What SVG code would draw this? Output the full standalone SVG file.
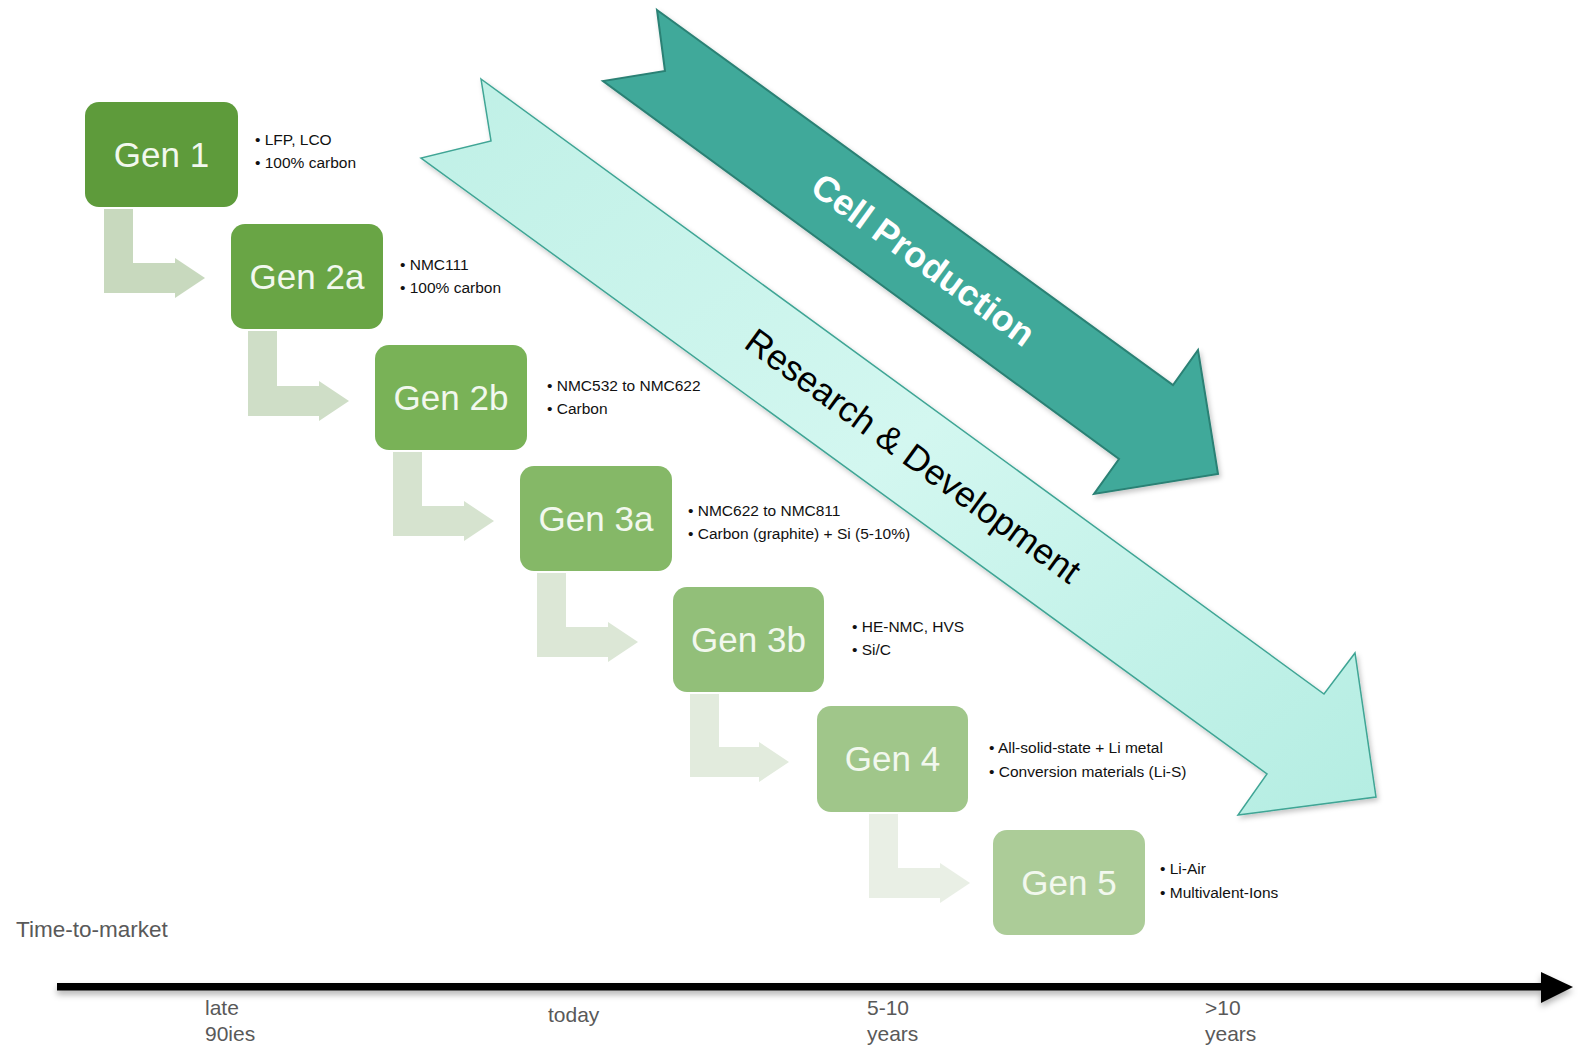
<svg xmlns="http://www.w3.org/2000/svg" width="1581" height="1045" viewBox="0 0 1581 1045">
<defs>
  <linearGradient id="rdGrad" x1="0" y1="0" x2="1" y2="1">
    <stop offset="0" stop-color="#BFF0E6"/>
    <stop offset="0.5" stop-color="#D3F7F0"/>
    <stop offset="1" stop-color="#B4EDE2"/>
  </linearGradient>
  <filter id="shadow" x="-10%" y="-10%" width="120%" height="120%">
    <feDropShadow dx="2" dy="3" stdDeviation="2.5" flood-color="#000" flood-opacity="0.22"/>
  </filter>
  <filter id="axisShadow" x="-5%" y="-100%" width="110%" height="400%">
    <feDropShadow dx="0" dy="4" stdDeviation="3" flood-color="#000" flood-opacity="0.3"/>
  </filter>
  <style>
    .box { stroke: none; }
    .gen { font-family: "Liberation Sans", Arial, sans-serif; font-size: 35px; fill: #F2F8EE; text-anchor: middle; }
    .bul { font-family: "Liberation Sans", Arial, sans-serif; font-size: 15.5px; fill: #111111; }
    .axl { font-family: "Liberation Sans", Arial, sans-serif; font-size: 21px; fill: #595959; }
    .ttm { font-size: 22.5px; }
  </style>
</defs>
<rect width="1581" height="1045" fill="#FFFFFF"/>

<g id="rd-arrow">
  <polygon points="481,79 1324,694 1355,653 1376,797 1238,815 1267,774 421,158 491,141" fill="url(#rdGrad)" stroke="#3FA595" stroke-width="1.5" filter="url(#shadow)"/>
  <text transform="translate(913,456) rotate(36.1)" x="0" y="12" text-anchor="middle" font-family="Liberation Sans, Arial, sans-serif" font-size="35.5" fill="#000">Research &amp; Development</text>
</g>

<g id="cell-arrow">
  <polygon points="657,10 1173,385 1198,350 1218,474 1094,494 1119,459 603,81 665,71" fill="#40A99A" stroke="#2B8174" stroke-width="2" filter="url(#shadow)"/>
  <text transform="translate(923,260) rotate(36.05)" x="0" y="12" text-anchor="middle" font-family="Liberation Sans, Arial, sans-serif" font-size="36" font-weight="bold" fill="#FFFFFF">Cell Production</text>
</g>

<g id="connectors">
  <polygon points="104,209 133,209 133,263 175,263 175,258 205,278 175,298 175,293 104,293" fill="#C8D9BE"/>
  <polygon points="248,331 277,331 277,386 319,386 319,381 349,401 319,421 319,416 248,416" fill="#CFDEC7"/>
  <polygon points="393,452 422,452 422,506 464,506 464,501 494,521 464,541 464,536 393,536" fill="#D6E3CF"/>
  <polygon points="537,573 566,573 566,627 608,627 608,622 638,642 608,662 608,657 537,657" fill="#DCE7D6"/>
  <polygon points="690,694 719,694 719,747 759,747 759,742 789,762 759,782 759,777 690,777" fill="#E2EBDD"/>
  <polygon points="869,814 898,814 898,868 940,868 940,863 970,883 940,903 940,898 869,898" fill="#E9EFE5"/>
</g>

<g id="gen1">
  <rect class="box" x="85" y="102" width="153" height="105" rx="14" fill="#5E9B3B"/>
  <text class="gen" x="161.5" y="167">Gen 1</text>
  <text class="bul" x="255" y="145">• LFP, LCO</text>
  <text class="bul" x="255" y="168">• 100% carbon</text>
</g>
<g id="gen2a">
  <rect class="box" x="231" y="224" width="152" height="105" rx="14" fill="#69A545"/>
  <text class="gen" x="307" y="289">Gen 2a</text>
  <text class="bul" x="400" y="270">• NMC111</text>
  <text class="bul" x="400" y="293">• 100% carbon</text>
</g>
<g id="gen2b">
  <rect class="box" x="375" y="345" width="152" height="105" rx="14" fill="#79B257"/>
  <text class="gen" x="451" y="410">Gen 2b</text>
  <text class="bul" x="547" y="391">• NMC532 to NMC622</text>
  <text class="bul" x="547" y="414">• Carbon</text>
</g>
<g id="gen3a">
  <rect class="box" x="520" y="466" width="152" height="105" rx="14" fill="#85B867"/>
  <text class="gen" x="596" y="531">Gen 3a</text>
  <text class="bul" x="688" y="516">• NMC622 to NMC811</text>
  <text class="bul" x="688" y="539">• Carbon (graphite) + Si (5-10%)</text>
</g>
<g id="gen3b">
  <rect class="box" x="673" y="587" width="151" height="105" rx="14" fill="#92BF79"/>
  <text class="gen" x="748.5" y="652">Gen 3b</text>
  <text class="bul" x="852" y="632">• HE-NMC, HVS</text>
  <text class="bul" x="852" y="655">• Si/C</text>
</g>
<g id="gen4">
  <rect class="box" x="817" y="706" width="151" height="106" rx="14" fill="#A0C68A"/>
  <text class="gen" x="892.5" y="771">Gen 4</text>
  <text class="bul" x="989" y="753">• All-solid-state + Li metal</text>
  <text class="bul" x="989" y="777">• Conversion materials (Li-S)</text>
</g>
<g id="gen5">
  <rect class="box" x="993" y="830" width="152" height="105" rx="14" fill="#ACCC98"/>
  <text class="gen" x="1069" y="895">Gen 5</text>
  <text class="bul" x="1160" y="874">• Li-Air</text>
  <text class="bul" x="1160" y="898">• Multivalent-Ions</text>
</g>

<g id="axis">
  <g filter="url(#axisShadow)">
    <rect x="57" y="983" width="1486" height="7.5" fill="#000"/>
    <polygon points="1541,972 1573,987 1541,1003" fill="#000"/>
  </g>
  <text class="axl ttm" x="16" y="937">Time-to-market</text>
  <text class="axl" x="205" y="1015">late</text>
  <text class="axl" x="205" y="1041">90ies</text>
  <text class="axl" x="548" y="1022">today</text>
  <text class="axl" x="867" y="1015">5-10</text>
  <text class="axl" x="867" y="1041">years</text>
  <text class="axl" x="1205" y="1015">&gt;10</text>
  <text class="axl" x="1205" y="1041">years</text>
</g>
</svg>
